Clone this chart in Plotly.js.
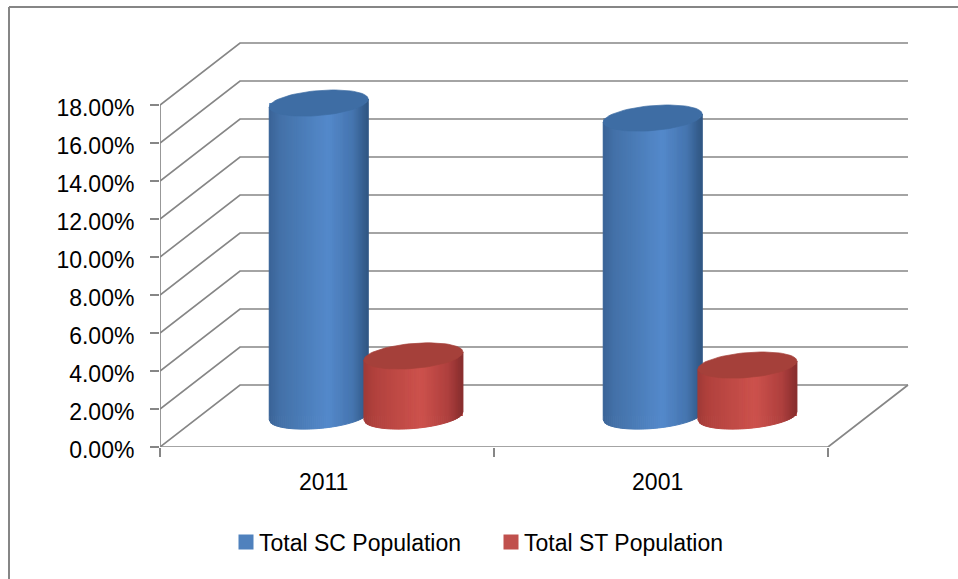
<!DOCTYPE html>
<html>
<head>
<meta charset="utf-8">
<script src="https://cdn.plot.ly/plotly-3.0.1.min.js"></script>
<style>html,body{margin:0;padding:0;background:#fff;overflow:hidden}#chart{width:958px;height:579px}</style>
</head>
<body>
<div id="chart"></div>
<script>
// ---- data ----
const categories = ['2011', '2001'];
const seriesNames = ['Total SC Population', 'Total ST Population'];
const scValues = [16.47, 15.68];
const stValues = [3.16, 2.68];
const yTicks = [0, 2, 4, 6, 8, 10, 12, 14, 16, 18];
const yTickLabels = ['0.00%', '2.00%', '4.00%', '6.00%', '8.00%', '10.00%', '12.00%', '14.00%', '16.00%', '18.00%'];

// ---- styling ----
const GREY = '#868686';
const FONT = 'Liberation Sans, Arial, sans-serif';
const W = 958, H = 579, L = 160, R = 910, T = 40, B = 447;
const pxX = 334, pxY = 19;                   // pixels per axis unit
const depthX = 80 / pxX, depthY = 62 / pxY;  // 3-D wall offset in axis units
const rx = 49.5 / pxX, ry = 12.5 / pxY, tilt = 4 / pxY;
const shiftSC = -0.1445, shiftST = 0.139;
const blueStops = [[0, [58, 100, 150]], [0.12, [68, 113, 168]], [0.6, [84, 137, 203]], [0.85, [70, 117, 175]], [1, [48, 86, 130]]];
const redStops  = [[0, [160, 58, 55]], [0.12, [178, 66, 62]], [0.58, [205, 82, 77]], [0.85, [175, 64, 62]], [1, [135, 46, 46]]];
const blueCap = '#3e6da4', redCap = '#a5403a';

function shade(stops, u) {
  for (let i = 1; i < stops.length; i++) {
    if (u <= stops[i][0]) {
      const a = stops[i - 1], b = stops[i], f = (u - a[0]) / (b[0] - a[0]);
      return 'rgb(' + a[1].map((v, k) => Math.round(v + (b[1][k] - v) * f)).join(',') + ')';
    }
  }
  return 'rgb(' + stops[stops.length - 1][1].join(',') + ')';
}

const traces = [];

// real bars carrying the values (lifted to mid-depth of the floor)
function barTrace(name, values, shift, color) {
  return {
    type: 'bar', name: name, showlegend: false, hoverinfo: 'skip',
    x: categories.map((c, i) => i + 0.5 + shift + depthX / 2),
    y: values, base: values.map(() => depthY / 2), width: rx * 2,
    marker: { color: color, line: { width: 0 } }
  };
}
traces.push(barTrace(seriesNames[0], scValues, shiftSC, '#4f81bd'));
traces.push(barTrace(seriesNames[1], stValues, shiftST, '#c0504d'));

// walls and floor from the axis ticks
const gx = [], gy = [];
const xMaxCat = categories.length;
yTicks.forEach(v => {
  gx.push(0, depthX, xMaxCat + depthX, null);
  gy.push(v, v + depthY, v + depthY, null);
});
gx.push(0, xMaxCat, xMaxCat + depthX);
gy.push(0, 0, depthY);
traces.push({
  type: 'scatter', mode: 'lines', x: gx, y: gy, showlegend: false, hoverinfo: 'skip',
  cliponaxis: false, connectgaps: false, line: { color: GREY, width: 1.7 }
});

// shaded cylinders
function cylinder(xc, value, stops, capColor) {
  const y0 = depthY / 2, y1 = y0 + value, n = 50;
  const rim = (c, yc) => yc - ry * Math.sqrt(Math.max(0, 1 - c * c)) + tilt * c;
  for (let i = 0; i < n; i++) {
    const c0 = -1 + 2 * i / n, c1 = -1 + 2 * (i + 1) / n;
    const col = shade(stops, (i + 0.5) / n);
    traces.push({
      type: 'scatter', mode: 'lines', fill: 'toself', fillcolor: col, hoverinfo: 'skip', showlegend: false,
      line: { color: col, width: 1 },
      x: [c0, c1, c1, c0, c0].map(c => xc + rx * c),
      y: [rim(c0, y0), rim(c1, y0), rim(c1, y1), rim(c0, y1), rim(c0, y0)]
    });
  }
  const ex = [], ey = [];
  for (let k = 0; k <= 72; k++) {
    const t = k / 72 * 2 * Math.PI;
    ex.push(xc + rx * Math.cos(t));
    ey.push(y1 + ry * Math.sin(t) + tilt * Math.cos(t));
  }
  traces.push({
    type: 'scatter', mode: 'lines', fill: 'toself', fillcolor: capColor, hoverinfo: 'skip', showlegend: false,
    line: { color: capColor, width: 0.7 }, x: ex, y: ey
  });
}
categories.forEach((c, i) => {
  cylinder(i + 0.5 + shiftSC + depthX / 2, scValues[i], blueStops, blueCap);
  cylinder(i + 0.5 + shiftST + depthX / 2, stValues[i], redStops, redCap);
});

// legend keys
[['#4f81bd', 0], ['#c0504d', 1]].forEach(k => traces.push({
  type: 'scatter', mode: 'markers', name: seriesNames[k[1]], x: [null], y: [null], hoverinfo: 'skip',
  marker: { symbol: 'square', size: 15, color: k[0] }
}));

const plotW = R - L, plotH = B - T;
const layout = {
  width: W, height: H, showlegend: true, barmode: 'overlay',
  paper_bgcolor: '#fff', plot_bgcolor: 'rgba(0,0,0,0)',
  font: { family: FONT, size: 23, color: '#000' },
  margin: { l: L, r: W - R, t: T, b: H - B, pad: 0, autoexpand: false },
  xaxis: {
    range: [0, plotW / pxX], showgrid: false, zeroline: false, showline: false, fixedrange: true,
    tickmode: 'array', tickvals: categories.map((c, i) => i + 0.49), ticktext: categories,
    ticks: '', ticklabelstandoff: 19,
    minor: { tickmode: 'array', tickvals: [0, 1, 2], ticks: 'outside', ticklen: 9, tickwidth: 1.7, tickcolor: GREY, showgrid: false }
  },
  yaxis: {
    range: [0, plotH / pxY], showgrid: false, zeroline: false, fixedrange: true,
    showline: false,
    tickmode: 'array', tickvals: yTicks, ticktext: yTickLabels,
    ticks: 'outside', ticklen: 9, tickwidth: 1.7, tickcolor: GREY, ticklabelstandoff: 11
  },
  legend: {
    orientation: 'h', x: (219 - L) / plotW, xanchor: 'left', y: (B - 542) / plotH, yanchor: 'middle',
    bgcolor: 'rgba(0,0,0,0)', entrywidth: 220, entrywidthmode: 'pixels', itemclick: false, itemdoubleclick: false,
    font: { family: FONT, size: 23, color: '#000' }
  },
  shapes: [
    { type: 'line', xref: 'paper', yref: 'paper', x0: (9 - L) / plotW, x1: (9 - L) / plotW, y0: (B - 7) / plotH, y1: (B - H) / plotH, line: { color: GREY, width: 2 } },
    { type: 'line', xref: 'paper', yref: 'paper', x0: (9 - L) / plotW, x1: (W - L) / plotW, y0: (B - 7) / plotH, y1: (B - 7) / plotH, line: { color: GREY, width: 2 } },
    { type: 'line', xref: 'x', yref: 'y', x0: 0, x1: 0, y0: 0, y1: 18, line: { color: GREY, width: 1.7 } }
  ]
};

Plotly.newPlot('chart', traces, layout, { displayModeBar: false, responsive: false }).then(() => {
  // nudge legend keys next to their labels and the value labels just below their ticks, as in the original
  document.querySelectorAll('.legendsymbols').forEach(g => g.setAttribute('transform', 'translate(7,0)'));
  document.querySelectorAll('.ytick text').forEach(t => t.setAttribute('dy', '2.5'));
});
</script>
</body>
</html>
